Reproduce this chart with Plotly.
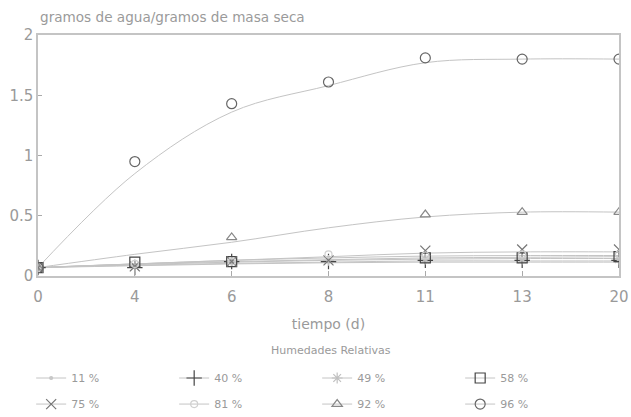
import plotly.graph_objects as go

# Days of storage (plotted as evenly spaced categories)
dias = ["0", "4", "6", "8", "11", "13", "20"]

# Relative humidity series
humedades = ["11 %", "40 %", "49 %", "58 %", "75 %", "81 %", "92 %", "96 %"]

# Measured water content (g water / g dry mass); None = no reading
h11 = [0.07, 0.07, 0.11, 0.12, 0.12, 0.12, 0.12]
h40 = [0.07, 0.07, 0.12, 0.12, 0.13, 0.13, 0.13]
h49 = [0.07, 0.08, 0.12, 0.13, 0.14, 0.14, 0.14]
h58 = [0.07, 0.115, 0.12, None, 0.15, 0.15, 0.16]
h75 = [0.07, 0.08, 0.12, 0.13, 0.21, 0.22, 0.22]
h81 = [0.07, 0.10, 0.12, 0.18, 0.17, 0.18, 0.18]
h92 = [0.07, None, 0.32, None, 0.51, 0.53, 0.53]
h96 = [0.07, 0.95, 1.43, 1.61, 1.81, 1.80, 1.80]

# Smoothed fitted curves for each humidity
a11 = [0.07, 0.085, 0.10, 0.11, 0.115, 0.115, 0.115]
a40 = [0.07, 0.09, 0.105, 0.115, 0.125, 0.125, 0.125]
a49 = [0.07, 0.095, 0.115, 0.13, 0.14, 0.145, 0.145]
a58 = [0.07, 0.10, 0.12, 0.135, 0.15, 0.155, 0.16]
a75 = [0.07, 0.10, 0.13, 0.16, 0.19, 0.20, 0.20]
a81 = [0.07, 0.10, 0.13, 0.15, 0.165, 0.17, 0.17]
a92 = [0.07, 0.18, 0.28, 0.40, 0.49, 0.53, 0.53]
a96 = [0.07, 0.85, 1.36, 1.58, 1.77, 1.80, 1.80]

medidas = [h11, h40, h49, h58, h75, h81, h92, h96]
ajustes = [a11, a40, a49, a58, a75, a81, a92, a96]

simbolos = ["circle", "cross-thin-open", "asterisk-open", "square-open",
            "x-thin-open", "circle-open", "triangle-up-open", "circle-open"]
tamanos = [3, 11, 9, 10, 10, 7, 9, 10]
colores = ["#c8c8c8", "#444444", "#c0c0c0", "#444444",
           "#777777", "#d0d0d0", "#888888", "#666666"]
LINEA = "#c4c4c4"
TEXTO = "#9a9a9a"
FUENTE = "DejaVu Sans ExtraLight, DejaVu Sans, sans-serif"

fig = go.Figure()

for nombre, y_aj in zip(humedades, ajustes):
    fig.add_trace(go.Scatter(
        x=dias, y=y_aj, mode="lines",
        line=dict(color=LINEA, width=1, shape="spline", smoothing=1.0),
        showlegend=False, hoverinfo="skip", name=nombre,
    ))

for i, (nombre, y_med, sim, tam, col) in enumerate(
        zip(humedades, medidas, simbolos, tamanos, colores)):
    fig.add_trace(go.Scatter(
        x=dias, y=y_med, mode="markers", name=nombre,
        marker=dict(symbol=sim, size=tam, color=col, line=dict(color=col, width=1.2)),
        showlegend=False,
    ))
    # legend entry: short line with the series symbol (two rows of four)
    fig.add_trace(go.Scatter(
        x=[None], y=[None], mode="lines+markers", name=nombre,
        line=dict(color=LINEA, width=1),
        marker=dict(symbol=sim, size=tam, color=col, line=dict(color=col, width=1.2)),
        showlegend=True, legend="legend" if i < 4 else "legend2",
    ))

fila = dict(
    orientation="h", xref="container", x=0.0494, xanchor="left",
    yref="container", yanchor="middle",
    entrywidth=98, entrywidthmode="pixels", itemwidth=30,
    font=dict(size=11, color=TEXTO), bgcolor="rgba(0,0,0,0)",
)

fig.update_layout(
    width=631, height=417,
    margin=dict(l=38, r=12, t=35, b=141),
    plot_bgcolor="white", paper_bgcolor="white",
    font=dict(family=FUENTE, color=TEXTO, size=14),
    xaxis=dict(
        type="category", categoryorder="array", categoryarray=dias,
        range=[0, len(dias) - 1], automargin=False,
        showline=True, mirror=True, linecolor=LINEA, linewidth=1.5,
        showgrid=False, zeroline=False,
        ticks="inside", ticklen=5, tickcolor="#aaaaaa",
        tickfont=dict(size=15, color=TEXTO), ticklabelstandoff=6,
        title=dict(text="tiempo (d)", font=dict(size=14, color=TEXTO), standoff=14),
    ),
    yaxis=dict(
        range=[0, 2], dtick=0.5, automargin=False,
        showline=True, mirror=True, linecolor=LINEA, linewidth=1.5,
        showgrid=False, zeroline=False,
        ticks="inside", ticklen=4, tickcolor="#aaaaaa",
        tickfont=dict(size=15, color=TEXTO),
    ),
    legend=dict(fila, y=0.0935),
    legend2=dict(fila, y=0.031),
    annotations=[
        dict(
            text="gramos de agua/gramos de masa seca",
            xref="paper", yref="paper", x=0.0, y=1.0, xanchor="left", yanchor="bottom",
            yshift=8, showarrow=False, font=dict(size=13.6, color=TEXTO),
        ),
        dict(
            text="Humedades Relativas",
            xref="paper", yref="paper", x=0.505, y=-0.311, xanchor="center", yanchor="middle",
            showarrow=False, font=dict(size=11, color=TEXTO),
        ),
    ],
)

fig.write_html("out.html")
